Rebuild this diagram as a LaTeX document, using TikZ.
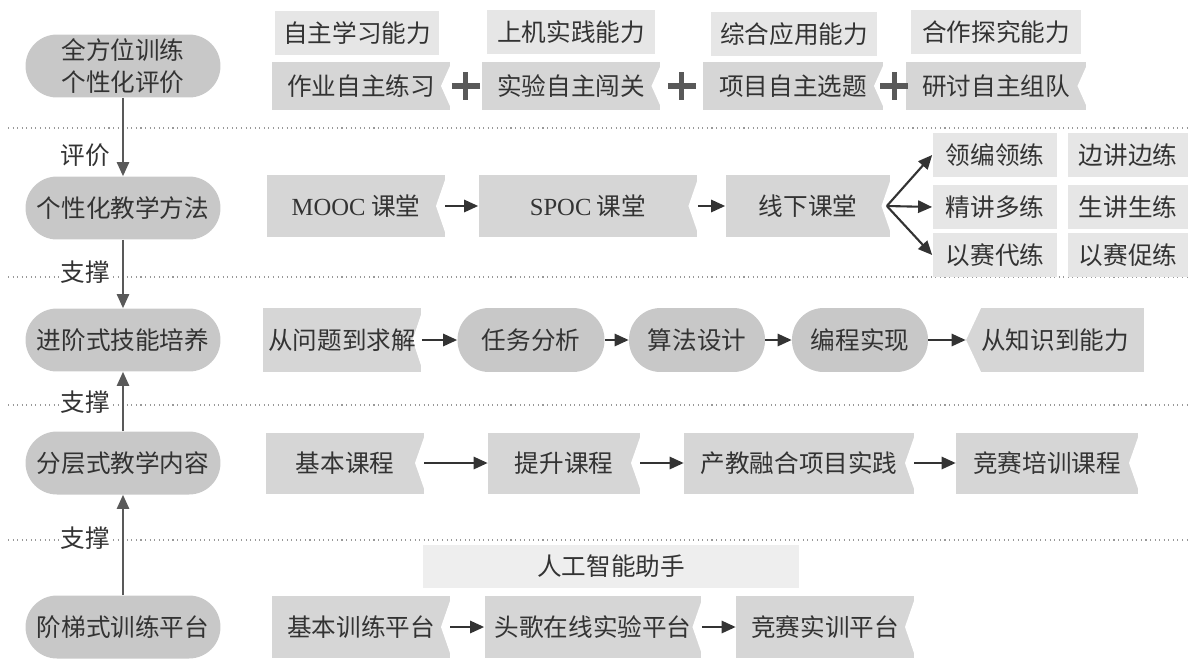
\documentclass[tikz,border=0pt]{standalone}
\usepackage{fontspec}
\setmainfont{Liberation Serif}
\newfontfamily\cjk{Noto Sans CJK SC}
\usetikzlibrary{arrows.meta,calc}
\definecolor{pillgray}{HTML}{C8C8C8}
\definecolor{ribgray}{HTML}{D6D6D6}
\definecolor{taggray}{HTML}{E6E6E6}
\definecolor{aigray}{HTML}{EEEEEE}
\definecolor{txtgray}{HTML}{333333}
\tikzset{
  base/.style={font=\cjk\fontsize{14}{18}\selectfont, text=txtgray, inner sep=0pt, align=center},
  pill/.style={base, fill=pillgray, rounded corners=0.63cm, minimum height=1.26cm},
  tag/.style={base, fill=taggray, minimum height=0.9cm},
  notch/.style={path picture={\fill[white] ([xshift=1pt]path picture bounding box.north east)
      -- ([xshift=-0.18cm]path picture bounding box.east) -- ([xshift=1pt]path picture bounding box.south east) -- cycle;}},
  lpoint/.style={path picture={\fill[white] ([xshift=-1pt]path picture bounding box.north west)
      -- ([xshift=0.3cm]path picture bounding box.north west) -- (path picture bounding box.west) -- cycle;
      \fill[white] ([xshift=-1pt]path picture bounding box.south west)
      -- ([xshift=0.3cm]path picture bounding box.south west) -- (path picture bounding box.west) -- cycle;}},
  ribbon/.style={base, fill=ribgray, minimum height=1.24cm, notch},
  flow/.style={draw=txtgray, line width=1.2pt, -{Triangle[length=8pt,width=7pt]}},
  updown/.style={draw=black!65, line width=1pt, -{Triangle[length=8pt,width=7pt]}},
  sep/.style={draw=black!40, dotted, line width=0.6pt},
  lbl/.style={base, fill=white, inner sep=1pt, anchor=east},
  plus/.style={draw=black!65, line width=3pt}
}
\begin{document}
\begin{tikzpicture}[x=0.02cm, y=-0.02cm]
    \useasboundingbox (0,0) rectangle (1197,663);
    % Lineas de separacion
    \foreach \y in {128,277,405,540}
        \draw[sep] (8,\y) -- (1190,\y);
    % Columna izquierda
    \node[pill, minimum width=3.9cm] (p1) at (123,66) {全方位训练\\个性化评价};
    \node[pill, minimum width=3.9cm] (p2) at (123,208) {个性化教学方法};
    \node[pill, minimum width=3.9cm] (p3) at (123,340) {进阶式技能培养};
    \node[pill, minimum width=3.9cm] (p4) at (123,463) {分层式教学内容};
    \node[pill, minimum width=3.9cm] (p5) at (123,627) {阶梯式训练平台};
    \draw[updown] (p1) -- (p2);
    \draw[updown] (p2) -- (p3);
    \draw[updown] (p4) -- (p3);
    \draw[updown] (p5) -- (p4);
    \node[lbl] at (112,155) {评价};
    \node[lbl] at (112,272) {支撑};
    \node[lbl] at (112,402) {支撑};
    \node[lbl] at (112,538) {支撑};
    % Fila 1: evaluacion
    \node[tag, minimum width=3.3cm] (t1) at (357,33) {自主学习能力};
    \node[tag, minimum width=3.36cm] (t2) at (571,32) {上机实践能力};
    \node[tag, minimum width=3.34cm] (t3) at (794,34) {综合应用能力};
    \node[tag, minimum width=3.4cm] (t4) at (996,32) {合作探究能力};
    \node[ribbon, minimum width=3.56cm, minimum height=0.96cm] (r1) at (361,86) {作业自主练习};
    \node[ribbon, minimum width=3.58cm, minimum height=0.96cm] (r2) at (571,86) {实验自主闯关};
    \node[ribbon, minimum width=3.6cm, minimum height=0.96cm] (r3) at (793,86) {项目自主选题};
    \node[ribbon, minimum width=3.62cm, minimum height=0.96cm] (r4) at (996,86) {研讨自主组队};
    \foreach \a/\b in {r1/r2,r2/r3,r3/r4}
        \draw[plus] ($(\a.east)!0.5!(\b.west)$) +(-14,0) -- +(14,0) +(0,-14) -- +(0,14);
    % Fila 2: metodos
    \node[ribbon, minimum width=3.56cm] (m1) at (356,206) {{\rmfamily MOOC} 课堂};
    \node[ribbon, minimum width=4.38cm] (m2) at (588,206) {{\rmfamily SPOC} 课堂};
    \node[ribbon, minimum width=3.3cm] (m3) at (808,206) {线下课堂};
    \node[tag, minimum width=2.5cm, minimum height=0.88cm] (lb) at (995,155) {领编领练};
    \node[tag, minimum width=2.4cm, minimum height=0.88cm] (bj) at (1128,155) {边讲边练};
    \node[tag, minimum width=2.5cm, minimum height=0.88cm] (jj) at (995,207) {精讲多练};
    \node[tag, minimum width=2.4cm, minimum height=0.88cm] (sj) at (1128,207) {生讲生练};
    \node[tag, minimum width=2.5cm, minimum height=0.88cm] (yd) at (995,255) {以赛代练};
    \node[tag, minimum width=2.4cm, minimum height=0.88cm] (yc) at (1128,255) {以赛促练};
    \draw[flow] (m1) -- (m2);
    \draw[flow] (m2) -- (m3);
    \coordinate (fan) at ([xshift=-0.08cm]m3.east);
    \draw[flow] (fan) -- (lb.west);
    \draw[flow] (fan) -- (jj.west);
    \draw[flow] (fan) -- (yd.west);
    % Fila 3: habilidades
    \node[ribbon, minimum width=3.18cm, minimum height=1.28cm] (q1) at (342,340) {从问题到求解};
    \node[pill, minimum width=2.94cm, minimum height=1.28cm] (q2) at (531,340) {任务分析};
    \node[pill, minimum width=2.72cm, minimum height=1.28cm] (q3) at (697,340) {算法设计};
    \node[pill, minimum width=2.72cm, minimum height=1.28cm] (q4) at (860,340) {编程实现};
    \node[base, fill=ribgray, lpoint, minimum width=3.56cm, minimum height=1.28cm] (q5) at (1055,340) {从知识到能力};
    \draw[flow] (q1) -- (q2);
    \draw[flow] (q2) -- (q3);
    \draw[flow] (q3) -- (q4);
    \draw[flow] (q4) -- (q5);
    % Fila 4: contenidos
    \node[ribbon, minimum width=3.16cm, minimum height=1.22cm] (k1) at (345,463) {基本课程};
    \node[ribbon, minimum width=3.04cm, minimum height=1.22cm] (k2) at (564,463) {提升课程};
    \node[ribbon, minimum width=4.6cm, minimum height=1.22cm] (k3) at (799,463) {产教融合项目实践};
    \node[ribbon, minimum width=3.64cm, minimum height=1.22cm] (k4) at (1047,463) {竞赛培训课程};
    \draw[flow] (k1) -- (k2);
    \draw[flow] (k2) -- (k3);
    \draw[flow] (k3) -- (k4);
    % Fila 5: plataformas
    \node[base, fill=aigray, minimum width=7.52cm, minimum height=0.86cm] (ai) at (611,566) {人工智能助手};
    \node[ribbon, minimum width=3.56cm] (s1) at (361,627) {基本训练平台};
    \node[ribbon, minimum width=4.34cm] (s2) at (593,627) {头歌在线实验平台};
    \node[ribbon, minimum width=3.56cm] (s3) at (825,627) {竞赛实训平台};
    \draw[flow] (s1) -- (s2);
    \draw[flow] (s2) -- (s3);
\end{tikzpicture}
\end{document}
